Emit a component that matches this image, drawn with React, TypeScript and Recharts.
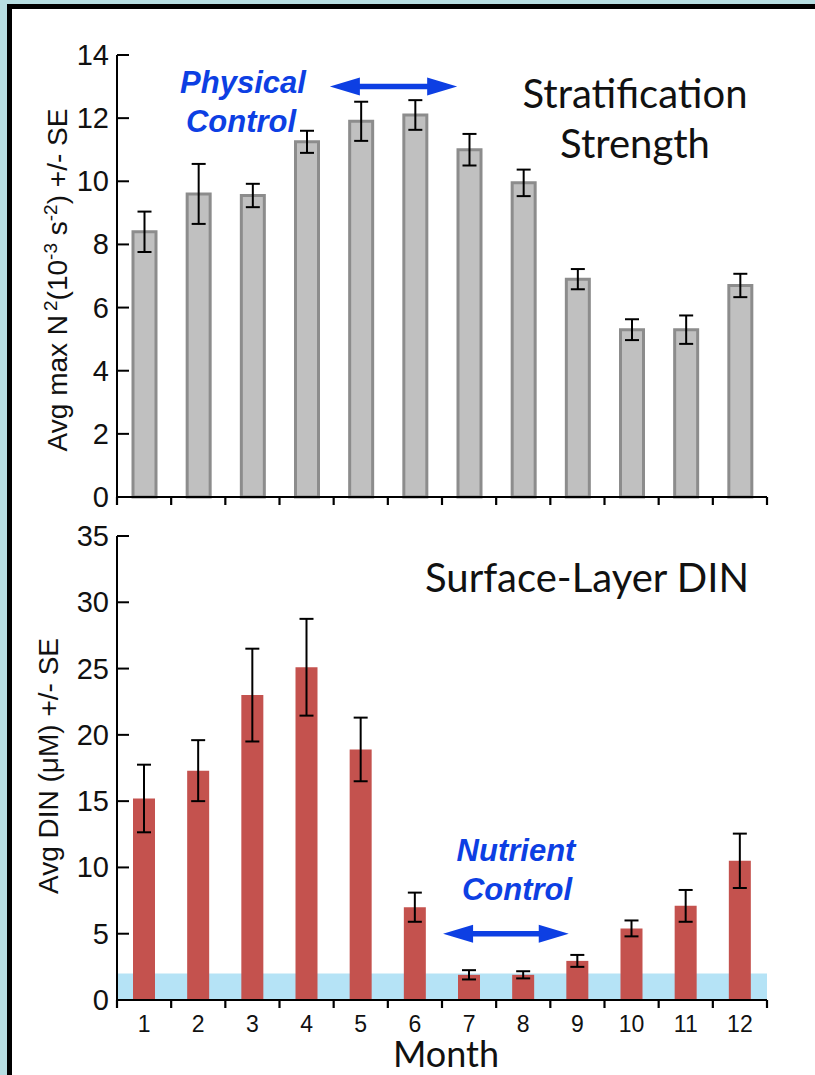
import React from "react";
import {
  BarChart,
  Bar,
  XAxis,
  YAxis,
  ErrorBar,
  ReferenceArea,
  ReferenceLine,
} from "recharts";

const months = [1, 2, 3, 4, 5, 6, 7, 8, 9, 10, 11, 12];
const stratification = [8.4, 9.6, 9.55, 11.25, 11.9, 12.1, 11.0, 9.95, 6.9, 5.3, 5.3, 6.7];
const stratificationSE = [0.64, 0.95, 0.37, 0.35, 0.62, 0.47, 0.5, 0.42, 0.32, 0.33, 0.45, 0.37];
const din = [15.2, 17.3, 23.0, 25.1, 18.9, 7.0, 1.9, 1.9, 2.95, 5.4, 7.1, 10.5];
const dinSE = [2.55, 2.3, 3.5, 3.65, 2.4, 1.1, 0.35, 0.27, 0.45, 0.6, 1.2, 2.05];
const strataTicks = [0, 2, 4, 6, 8, 10, 12, 14];
const dinTicks = [0, 5, 10, 15, 20, 25, 30, 35];
const nutrientBand = [0, 2];
const physicalArrow = [4.43, 6.78, 13];
const nutrientArrow = [6.52, 8.84, 5];

const monthEdges = [...months.map((m) => m - 0.5), 12.5];
const xDomain = [0.5, 12.5];

const strataData = months.map((m, i) => ({ month: m, value: stratification[i], se: stratificationSE[i] }));
const dinData = months.map((m, i) => ({ month: m, value: din[i], se: dinSE[i] }));

const BLUE = "#0d3fe3";
const ARIAL = "'Liberation Sans', Arial, sans-serif";
const TITLE_FONT = "Lato, 'Open Sans', sans-serif";

// y ticks point into the plot, labels stay outside
const InwardTick = (props: any) => {
  const { x, y, payload } = props;
  return (
    <g>
      <line x1={x + 8} x2={x + 20} y1={y} y2={y} stroke="#000" strokeWidth={2} />
      <text x={x} y={y} dy={10} textAnchor="end" fontSize={29} fontFamily={ARIAL} fill="#111">
        {payload.value}
      </text>
    </g>
  );
};

// short downward marks at the month boundaries
const EdgeTick = (props: any) => {
  const { x, y } = props;
  return <line x1={x} x2={x} y1={y} y2={y + 8} stroke="#000" strokeWidth={2.2} />;
};

const Arrow = (props: any) => {
  const { x1, x2, y1 } = props;
  const L = 30;
  const H = 9;
  const s = 2.8;
  const y = y1;
  const pts = [
    [x1, y],
    [x1 + L, y - H],
    [x1 + L, y - s],
    [x2 - L, y - s],
    [x2 - L, y - H],
    [x2, y],
    [x2 - L, y + H],
    [x2 - L, y + s],
    [x1 + L, y + s],
    [x1 + L, y + H],
  ]
    .map((p) => p.join(","))
    .join(" ");
  return <polygon points={pts} fill={BLUE} />;
};

function StratChart() {
  return (
    <BarChart width={815} height={530} data={strataData} margin={{ top: 55, right: 48, bottom: 0, left: 0 }}>
      <XAxis
        dataKey="month"
        type="number"
        domain={xDomain}
        allowDataOverflow
        ticks={monthEdges}
        tick={<EdgeTick />}
        tickLine={false}
        tickSize={0}
        tickMargin={0}
        interval={0}
        height={33}
        axisLine={{ stroke: "#000", strokeWidth: 2 }}
      />
      <XAxis
        xAxisId="top"
        orientation="top"
        dataKey="month"
        type="number"
        domain={xDomain}
        allowDataOverflow
        height={0}
        tick={false}
        tickLine={false}
        axisLine={{ stroke: "#222", strokeWidth: 1.5 }}
      />
      <YAxis
        domain={[0, 14]}
        ticks={strataTicks}
        width={117}
        tickSize={0}
        tickMargin={8}
        tick={<InwardTick />}
        axisLine={{ stroke: "#000", strokeWidth: 2 }}
      />
      <YAxis
        yAxisId="right"
        orientation="right"
        domain={[0, 14]}
        width={0}
        tick={false}
        tickLine={false}
        axisLine={{ stroke: "#222", strokeWidth: 1.5 }}
      />
      <Bar dataKey="value" barSize={23} fill="#c0c0c0" stroke="#8c8c8c" strokeWidth={3} isAnimationActive={false}>
        <ErrorBar dataKey="se" width={7} stroke="#000" strokeWidth={2} />
      </Bar>
      <ReferenceLine
        segment={[
          { x: physicalArrow[0], y: physicalArrow[2] },
          { x: physicalArrow[1], y: physicalArrow[2] },
        ]}
        shape={Arrow}
        ifOverflow="visible"
      />
    </BarChart>
  );
}

function DinChart() {
  return (
    <BarChart width={815} height={555} data={dinData} margin={{ top: 16, right: 48, bottom: 0, left: 0 }}>
      <XAxis
        dataKey="month"
        type="number"
        domain={xDomain}
        allowDataOverflow
        ticks={monthEdges}
        tick={<EdgeTick />}
        tickLine={false}
        tickSize={0}
        tickMargin={0}
        interval={0}
        height={8}
        axisLine={{ stroke: "#000", strokeWidth: 2 }}
      />
      <XAxis
        xAxisId="labels"
        dataKey="month"
        type="number"
        domain={xDomain}
        allowDataOverflow
        ticks={months}
        interval={0}
        height={67}
        tickSize={0}
        tickMargin={8}
        axisLine={false}
        tickLine={false}
        tick={{ fontSize: 23, fontFamily: ARIAL, fill: "#111" }}
      />
      <XAxis
        xAxisId="top"
        orientation="top"
        dataKey="month"
        type="number"
        domain={xDomain}
        allowDataOverflow
        height={0}
        tick={false}
        tickLine={false}
        axisLine={{ stroke: "#000", strokeWidth: 2 }}
      />
      <YAxis
        domain={[0, 35]}
        ticks={dinTicks}
        width={117}
        tickSize={0}
        tickMargin={8}
        tick={<InwardTick />}
        axisLine={{ stroke: "#000", strokeWidth: 2 }}
      />
      <YAxis
        yAxisId="right"
        orientation="right"
        domain={[0, 35]}
        width={0}
        tick={false}
        tickLine={false}
        axisLine={{ stroke: "#000", strokeWidth: 2 }}
      />
      <ReferenceArea y1={nutrientBand[0]} y2={nutrientBand[1]} fill="#b5e3f6" fillOpacity={1} stroke="none" />
      <Bar dataKey="value" barSize={22} fill="#c4524e" isAnimationActive={false}>
        <ErrorBar dataKey="se" width={7} stroke="#000" strokeWidth={2} />
      </Bar>
      <ReferenceLine
        segment={[
          { x: nutrientArrow[0], y: nutrientArrow[2] },
          { x: nutrientArrow[1], y: nutrientArrow[2] },
        ]}
        shape={Arrow}
        ifOverflow="visible"
      />
    </BarChart>
  );
}

export default function App() {
  return (
    <div
      style={{
        position: "absolute",
        left: 0,
        top: 0,
        width: 815,
        height: 1075,
        overflow: "hidden",
        background: "#b7dee2",
      }}
    >
      <div
        style={{
          position: "absolute",
          left: 7,
          top: 4,
          width: 900,
          height: 1200,
          border: "5px solid #000",
          background: "#fff",
        }}
      />
      <div style={{ position: "absolute", left: 0, top: 0 }}>
        <StratChart />
      </div>
      <div style={{ position: "absolute", left: 0, top: 520 }}>
        <DinChart />
      </div>
      <svg
        width={815}
        height={1075}
        style={{ position: "absolute", left: 0, top: 0, pointerEvents: "none" }}
      >
        <g fontFamily={TITLE_FONT} fontSize={40} fill="#111" textAnchor="middle">
          <text x={635} y={108}>Stratification</text>
          <text x={635} y={158}>Strength</text>
          <text x={587} y={592}>Surface-Layer DIN</text>
          <text x={446} y={1067} fontSize={36}>Month</text>
        </g>
        <g fontFamily={ARIAL} fontSize={31} fontWeight="bold" fontStyle="italic" fill={BLUE} textAnchor="middle">
          <text x={243} y={93}>Physical</text>
          <text x={241} y={132}>Control</text>
          <text x={516} y={861}>Nutrient</text>
          <text x={517} y={900}>Control</text>
        </g>
        <g fontFamily={ARIAL} fontSize={28} fill="#111" textAnchor="middle">
          <text transform="translate(67,280) rotate(-90)">
            Avg max N
            <tspan dx={4} dy={-10} fontSize={19}>2</tspan>
            <tspan dy={10}>(10</tspan>
            <tspan dy={-10} fontSize={19}>-3</tspan>
            <tspan dy={10}> s</tspan>
            <tspan dy={-10} fontSize={19}>-2</tspan>
            <tspan dy={10}>) +/- SE</tspan>
          </text>
          <text transform="translate(58,766) rotate(-90)">Avg DIN (μM) +/- SE</text>
        </g>
      </svg>
    </div>
  );
}
